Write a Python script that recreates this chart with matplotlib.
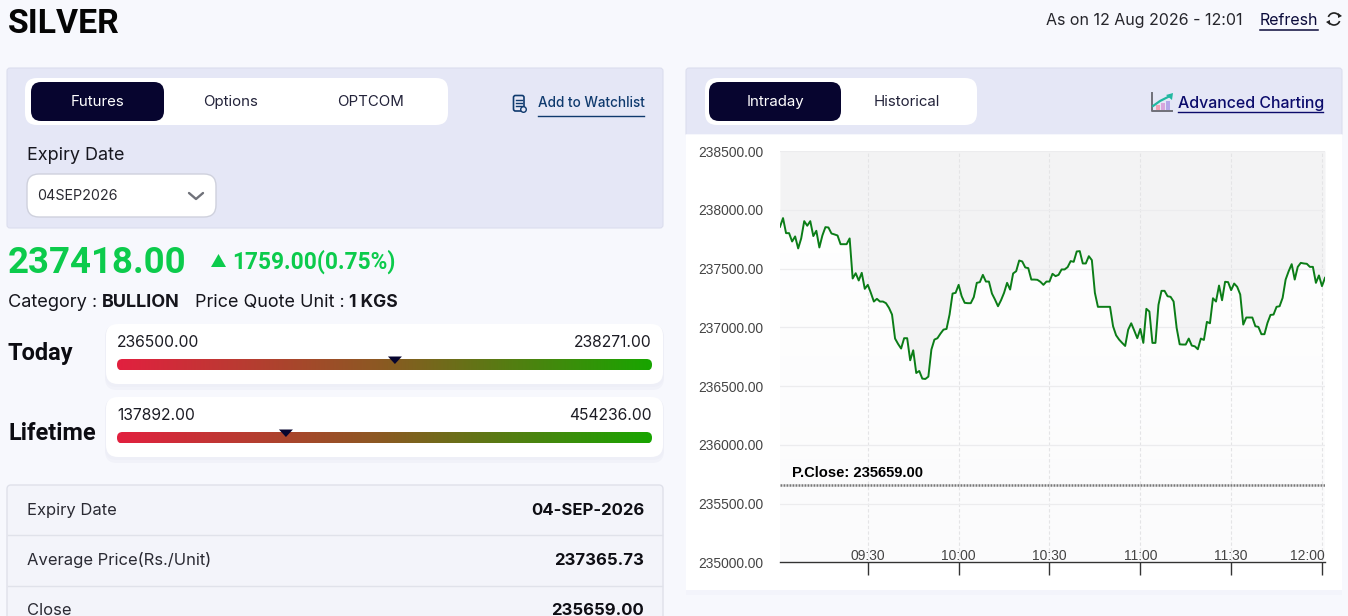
import numpy as np
import matplotlib
matplotlib.use("Agg")
import matplotlib.pyplot as plt
from matplotlib.patches import FancyBboxPatch, Rectangle, Polygon, Arc
from matplotlib.colors import LinearSegmentedColormap

# ---------- data ----------
prices = [
237855,237929,237801,237801,237730,237773,237671,237756,237903,237864,237903,237776,237821,237679,237781,237852,
237849,237798,237790,237781,237707,237707,237707,237756,237415,237460,237398,237463,237327,237361,237293,237219,
237242,237219,237219,237205,237165,237108,236904,236858,236819,236907,236907,236719,236804,236611,236628,236563,
236560,236580,236810,236895,236907,236946,236980,236986,237108,237287,237293,237361,237264,237208,237205,237205,
237256,237378,237384,237446,237389,237389,237287,237236,237179,237230,237293,237378,237321,237458,237477,237568,
237560,237509,237503,237406,237406,237404,237387,237361,237389,237389,237455,237435,237446,237492,237492,237512,
237563,237557,237645,237648,237543,237543,237605,237571,237293,237174,237174,237174,237174,237174,237009,236932,
236895,236867,236841,236980,237034,236972,236907,236986,236867,237157,237134,236867,236867,237191,237310,237310,
237264,237259,237219,236995,236855,236853,236853,236904,236844,236838,236813,236904,236892,237046,237034,237247,
237219,237355,237230,237387,237384,237316,237372,237344,237279,237023,237083,237083,237083,237009,237003,236941,
236941,237037,237105,237108,237174,237179,237250,237406,237477,237537,237406,237514,237548,237543,237540,237514,
237514,237378,237441,237350,237421]
first_minute = 9 * 60 + 1
y_ticks = [235000, 235500, 236000, 236500, 237000, 237500, 238000, 238500]
x_tick_labels = ["09:30", "10:00", "10:30", "11:00", "11:30", "12:00"]
x_tick_minutes = [570, 600, 630, 660, 690, 720]
prev_close = 235659
last_price = 237418
today_range = [236500, 238271]
life_range = [137892, 454236]

W, H = 1348, 616
UI = "Inter"
TIGHT = "Roboto"
CH = "Liberation Sans"
NAVY = "#07052f"
GREEN = "#0ccb4c"
INK = "#111118"

fig = plt.figure(figsize=(W / 100, H / 100), dpi=100, facecolor="#f7f8fd")
ui = fig.add_axes([0, 0, 1, 1])
ui.set_xlim(0, W); ui.set_ylim(H, 0); ui.axis("off")


def box(x0, y0, x1, y1, color, r=0, ec="none", lw=0, z=1):
    p = FancyBboxPatch((x0, y0), x1 - x0, y1 - y0,
                       boxstyle=f"round,pad=0,rounding_size={r}",
                       fc=color, ec=ec, lw=lw, zorder=z, mutation_aspect=1)
    ui.add_patch(p)
    return p


def txt(x, y, s, px=16, color=INK, weight="normal", ha="left", family=UI, z=5):
    return ui.text(x, y + px * 0.1, s, fontsize=px * 0.72, color=color, fontweight=weight, ha=ha,
                   va="center", family=family, zorder=z)


def card(x0, y0, x1, y1, r=12):
    for i, a in ((6, "#f1f2f9"), (3, "#eeeff7")):
        box(x0 - 1, y0 + i - 2, x1 + 1, y1 + i, a, r=r, z=1)
    box(x0, y0, x1, y1, "white", r=r, z=2)


# ---------- header ----------
txt(8, 20.5, "SILVER", 33.8, "#050505", "bold", family=TIGHT)
txt(1046, 19, "As on 12 Aug 2026 - 12:01", 16, "#26262c")
txt(1260, 19, "Refresh", 16, "#0b0b3b")
ui.plot([1260, 1318], [29.5, 29.5], color="#0b0b3b", lw=1.1, zorder=5)
ui.add_patch(Arc((1334, 19), 12, 12, theta1=200, theta2=340, color="#222", lw=1.2, zorder=5))
ui.add_patch(Arc((1334, 19), 12, 12, theta1=20, theta2=160, color="#222", lw=1.2, zorder=5))
ui.add_patch(Polygon([[1338, 13], [1342, 16], [1338, 18]], fc="#222", zorder=5))
ui.add_patch(Polygon([[1330, 25], [1326, 22], [1330, 20]], fc="#222", zorder=5))

# ---------- left panel ----------
box(7, 68, 663, 228, "#e5e7f6", r=3, ec="#dcdeee", lw=0.8)
box(25, 78, 448, 125, "white", r=12, z=2)
box(31, 82, 164, 121, NAVY, r=10, z=3)
txt(97.5, 100.5, "Futures", 15, "white", ha="center")
txt(231, 100.5, "Options", 15, "#23233a", ha="center")
txt(371, 100.5, "OPTCOM", 15, "#23233a", ha="center")
# watchlist icon
box(513.5, 95.5, 524, 111, "none", r=2, ec="#0f3a6e", lw=1.2, z=4)
for yy in (100, 103, 106):
    ui.plot([516, 522], [yy, yy], color="#0f3a6e", lw=1, zorder=4)
ui.add_patch(plt.Circle((523.5, 109.5), 2.8, fc="#e5e7f6", ec="#0f3a6e", lw=1, zorder=5))
txt(538, 101.5, "Add to Watchlist", 13.5, "#0f3a6e", "medium")
ui.plot([538, 644], [116, 116], color="#0f3a6e", lw=1.0, zorder=5)
txt(27, 153.5, "Expiry Date", 18, "#17171f")
box(27, 174, 216, 217, "white", r=12, ec="#cfd1dd", lw=1, z=2)
txt(37, 194.5, "04SEP2026", 14.3, "#2b2b33")
ui.plot([189, 196, 203], [193, 199, 193], color="#70727a", lw=1.7, zorder=5,
        solid_capstyle="round", solid_joinstyle="round")

txt(8, 259.5, f"{last_price:.2f}", 36.6, GREEN, "bold", family=TIGHT)
ui.add_patch(Polygon([[211, 267], [226, 267], [218.5, 254]], fc=GREEN, zorder=5))
txt(232, 259, "1759.00(0.75%)", 22.8, GREEN, "bold", family=TIGHT)
txt(8, 301, "Category :", 18.2, "#15151c")
txt(102, 301, "BULLION", 18, "#15151c", "bold")
txt(195, 301, "Price Quote Unit :", 18, "#15151c")
txt(349, 301, "1 KGS", 17.5, "#15151c", "bold")

# ---------- range bars ----------
cmap = LinearSegmentedColormap.from_list("rg", ["#e2203f", "#8a5a22", "#18a500"])
grad = np.linspace(0, 1, 256)[None, :]


def range_card(label, label_y, y0, y1, rng):
    txt(8, label_y, label, 23.5, "#0c0c12", "bold", family=TIGHT)
    card(106, y0, 663, y1)
    txt(117, y0 + 16.5, f"{rng[0]:.2f}", 15.7, "#1c1c24")
    txt(652, y0 + 16.5, f"{rng[1]:.2f}", 15.7, "#1c1c24", ha="right")
    b0, b1 = 117, 652
    yb0, yb1 = y0 + 35, y0 + 46.5
    im = ui.imshow(grad, extent=(b0, b1, yb1, yb0), cmap=cmap, aspect="auto", zorder=3)
    clip = FancyBboxPatch((b0, yb0), b1 - b0, yb1 - yb0, boxstyle="round,pad=0,rounding_size=5.5",
                          transform=ui.transData, fc="none", ec="none")
    ui.add_patch(clip)
    im.set_clip_path(clip)
    mx = b0 + (last_price - rng[0]) / (rng[1] - rng[0]) * (b1 - b0) + 0.6
    ui.add_patch(Polygon([[mx - 7, yb0 - 2.5], [mx + 7, yb0 - 2.5], [mx, yb0 + 5]], fc=NAVY, zorder=4))


range_card("Today", 351.5, 324, 384, today_range)
range_card("Lifetime", 431.5, 397, 457, life_range)
ui.set_xlim(0, W); ui.set_ylim(H, 0)

# ---------- table ----------
box(7, 485, 663, 640, "#f3f4fa", r=4, ec="#dfe1ea", lw=1)
for yy in (534.5, 585.5):
    ui.plot([8, 662], [yy, yy], color="#e0e2ea", lw=1, zorder=2)
rows = [("Expiry Date", "04-SEP-2026", 508.5), ("Average Price(Rs./Unit)", "237365.73", 558.5), ("Close", "235659.00", 608.5)]
for a, b, yy in rows:
    txt(27, yy, a, 16.6, "#2a2a33")
    txt(644, yy, b, 16.7, "#0e0e14", "bold", ha="right")

# ---------- right panel ----------
box(686, 68, 1342, 140, "#e5e7f6", r=3, ec="#dcdeee", lw=0.8)
box(680, 134.5, 1348, 600, "#f7f8fd", z=1)
box(686, 590, 1342, 595, "#f3f4fb", z=1)
box(686, 134.5, 1342, 590, "white", z=1.5)
box(705, 78, 977, 125, "white", r=12, z=2)
box(709, 82, 841, 121, NAVY, r=10, z=3)
txt(775, 100.5, "Intraday", 15, "white", ha="center")
txt(907, 100.5, "Historical", 15, "#23233a", ha="center")
txt(1178, 101.5, "Advanced Charting", 15.9, "#0b0b6b", "medium")
ui.plot([1178, 1323], [111.5, 111.5], color="#0b0b6b", lw=1, zorder=5)
# chart icon
ui.plot([1152, 1152, 1172], [93, 111, 111], color="#6f6f78", lw=1.4, zorder=5)
for xx, hh, c in ((1156, 5, "#f2a0b4"), (1161, 7, "#d8a6dd"), (1166, 9, "#b5a8ea")):
    ui.add_patch(Rectangle((xx, 110 - hh), 4, hh, fc=c, zorder=4))
ui.plot([1153, 1160, 1170], [106, 101, 96], color="#22b8a0", lw=1.6, zorder=5)
ui.add_patch(Polygon([[1173, 93], [1166, 95], [1172, 100]], fc="#22b8a0", zorder=5))

# ---------- chart ----------
X0, X1, Y0, Y1 = 780, 1325, 151, 562.3
ax = fig.add_axes([X0 / W, 1 - Y1 / H, (X1 - X0) / W, (Y1 - Y0) / H], facecolor="none", zorder=5)
minutes = first_minute + np.arange(len(prices))
ax.set_xlim(first_minute, first_minute + 180)
ax.set_ylim(y_ticks[0], y_ticks[-1])
ax.imshow(np.linspace(0, 1, 64)[:, None], extent=(first_minute, first_minute + 180, y_ticks[0], y_ticks[-1]),
          cmap=LinearSegmentedColormap.from_list("bg", ["#ffffff", "#fbfbfc"]), aspect="auto", zorder=0)
ax.fill_between(minutes, prices, y_ticks[-1], color="#f3f3f4", lw=0, zorder=1)
ax.set_yticks(y_ticks)
ax.set_yticklabels([f"{v:.2f}" for v in y_ticks], family=CH, fontsize=9.9, color="#444444")
ax.set_xticks(x_tick_minutes)
ax.set_xticklabels([])
ax.tick_params(axis="y", length=0, pad=12.3)
ax.tick_params(axis="x", length=9, width=1, color="#333333", direction="out")
ax.grid(axis="y", color="#ececee", lw=0.9, zorder=2)
ax.grid(axis="x", color="#e4e4e6", lw=0.8, ls=(0, (3, 2)), zorder=2)
ax.set_axisbelow(False)
for s in ("top", "left", "right"):
    ax.spines[s].set_visible(False)
ax.spines["bottom"].set_color("#333333")
ax.spines["bottom"].set_linewidth(1)
ax.plot(minutes, prices, color="#0b7d17", lw=1.4, zorder=4, solid_joinstyle="round")
ax.axhline(prev_close, color="#777777", lw=1.8, ls=(0, (0.75, 0.45)), zorder=3)
ax.annotate(f"P.Close: {prev_close:.2f}", xy=(0, prev_close), xycoords=ax.get_yaxis_transform(),
            xytext=(8.6, 3.2), textcoords="offset points", family=CH, fontsize=10.6, fontweight="bold",
            color="#000000", va="bottom", ha="left")
for m, lab in zip(x_tick_minutes, x_tick_labels):
    right = m == x_tick_minutes[-1]
    ax.annotate(lab, xy=(m, y_ticks[0]), xytext=(2.2 if right else 0, -0.4), textcoords="offset points",
                family=CH, fontsize=10, color="#444444", ha="right" if right else "center", va="bottom")

fig.savefig("out.png", dpi=100, facecolor=fig.get_facecolor())
